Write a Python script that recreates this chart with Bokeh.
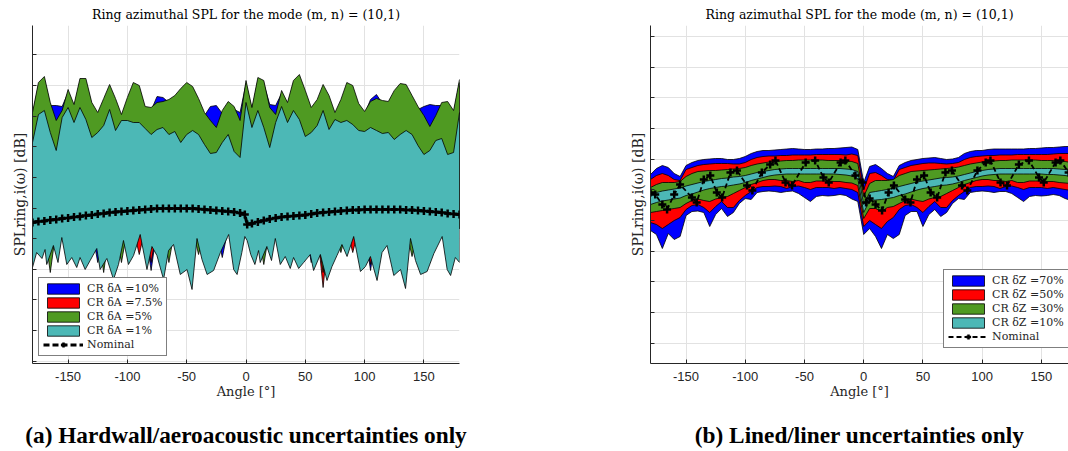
from bokeh.plotting import figure
from bokeh.models import Range1d, FixedTicker, Title, LinearAxis
from bokeh.layouts import row
from bokeh.embed import file_html
from bokeh.resources import INLINE

# ---------------- data: left panel (hardwall) ----------------
ang_top_a = list(range(-180, 185, 5))          # 73 angles for the upper edges
green_hi_a = [190,220,226,200,182,192,213,198,224,224,200,190,204,218,204,188,205,220,217,196,195,200,201,203,207,214,220,216,204,190,182,175,192,201,196,182,222,
              195,225,222,195,188,212,200,222,228,212,195,203,218,207,190,203,220,217,199,191,201,204,202,201,212,219,218,207,196,187,176,187,200,201,192,223]
blue_hi_a = [187,217,223,197,197,196,210,195,221,221,197,187,201,215,201,185,202,217,214,193,192,206,205,200,204,211,217,213,201,187,196,197,189,198,193,190,219,
             192,222,219,198,197,209,197,219,225,209,192,200,215,204,187,200,217,214,196,188,203,208,199,198,209,216,215,204,193,196,198,197,197,198,189,220]
red_hi_a = [184,214,220,194,176,186,207,192,218,218,194,184,198,212,198,182,199,214,211,190,189,194,195,197,201,208,214,210,198,184,176,169,186,195,190,176,216,
            189,219,216,189,182,206,194,216,222,206,189,197,212,201,184,197,214,211,193,185,195,198,196,195,206,213,212,201,190,181,170,181,194,195,186,217]
cyan_hi_a = [160,188,192,170,152,185,195,180,195,183,165,170,177,193,172,182,182,180,180,174,168,173,175,168,171,160,168,172,168,158,149,150,160,168,151,145,200,
             175,192,175,155,180,196,180,192,183,166,170,177,192,173,183,180,182,178,172,171,175,172,169,170,163,168,172,168,157,148,152,162,164,148,150,190]
green_lo_a = [74,74,74,30,74,74,74,74,74,74,74,74,30,74,74,40,74,74,74,74,74,74,74,40,74,74,74,74,48,74,74,74,74,74,74,74,74,
              74,74,38,74,74,74,74,74,74,74,74,74,30,74,74,50,74,74,74,74,74,74,74,74,74,74,74,46,74,74,74,74,74,74,74,74]
red_lo_a = [74,74,74,74,74,74,74,74,74,74,74,74,74,74,74,74,74,74,48,74,40,74,74,74,74,74,74,74,74,74,74,74,74,74,74,74,74,
            74,74,74,74,74,74,74,74,74,74,74,74,15,74,74,74,74,50,74,74,38,74,74,74,74,74,74,74,74,74,74,74,74,74,74,74]
blue_lo_a = [74,74,74,74,74,74,74,74,74,74,74,40,74,74,74,74,74,74,74,74,32,74,74,74,74,74,74,74,74,74,74,74,45,74,74,74,74,
             74,74,74,74,74,74,74,74,74,74,40,74,74,74,74,74,74,74,74,74,32,74,74,74,74,74,74,74,74,74,40,74,74,74,74,74]
ang_low_a = [-180,-176.5,-172,-169.4,-168,-162.4,-158.5,-155.3,-151.1,-146.9,-142.7,-139.9,-135.6,-131.4,-125.8,-123,-117.3,-111.7,-107.5,-103.3,
             -99.1,-94.8,-89.2,-83.5,-79.3,-75.1,-69.5,-65.3,-61.1,-55.4,-49.7,-45.5,-41.3,-37.1,-32.8,-27.3,-21.6,-14.6,-10.4,-7.5,-3.5,-1,
             1,4,7.5,10.6,12,17.6,21.5,24.7,28.9,33.1,37.3,40.1,44.4,48.6,54.2,57,62.7,68.3,72.5,76.7,
             80.9,85.2,90.8,96.5,100.7,104.9,110.5,114.7,118.9,124.6,130.3,134.5,138.7,142.9,147.2,152.7,158.4,165.4,169.6,172.5,176.5,180]
cyan_lo_a = [35,50,44,53,38,57,40,65,38,45,35,45,33,42,54,33,44,23,38,62,38,47,68,33,56,47,23,52,58,28,33,13,64,43,28,32,50,68,33,28,50,66,
             62,48,38,52,40,56,42,64,38,46,34,45,34,40,48,32,48,22,36,47,58,46,66,31,36,46,22,50,57,27,33,14,64,42,28,31,49,66,33,27,45,40]
ang_nom_a = list(range(-180, 0, 5)) + [-1, 1] + list(range(5, 185, 5))
nom_a = [80,81,81.5,82.5,83,84,84.5,85.5,86,87,87.5,88.5,89,90,90.5,91,91.5,92,92.5,93,93.5,94,94,94,94,94,94,94,93.5,93,92.5,92,91.5,91,90.5,89.5,
         88,78,
         79,80.5,82,83.5,84.5,85.5,86,86.5,87,87.5,88.5,89.5,90,90.5,91,91.5,92,92.5,92.5,93,93,93,93,93,93,93,92.5,92.5,92,91.5,91,90.5,90,89,88.5,88]

# ---------------- data: right panel (lined) ----------------
ang_b = list(range(-180, 180, 5))              # 72 angles
blue_hi_b = [78,84,87,85,79,76,87,90,92,93,93.5,94,94,93,93,94,96,99,101,102,102,102.5,103,103.5,104,103.5,103,103,103.5,103.5,104,104,104.5,105,105.5,103,
             70,
             86,88,84,79,76,87,90,92,93,94,94.5,95,94,93,93.5,95,99,101,102,102,103,103.5,103.5,103.5,103.5,103.5,103.5,104,104,104.5,105,105,105.5,106,106]
red_hi_b = [73,77,79,77,73,72,83,85,87,88,88.5,89,89,89,88.5,88.5,90,93,95,96,96.5,96.5,97,97,97.5,97.5,97.5,97.5,98,98,98,98,98,97.5,98.5,97,
            63,
            79,80,77,73,72,83,85,87,88,89,89.5,89.5,89,88.5,89,90,93,95,96,96.5,97,97,97.5,97.5,97.5,98,98,98,98,98,98,98.5,99,99,99]
green_hi_b = [65,68,70,70,70,71,76,79,81,81.5,82,82,82.5,83,83.5,84,85,87,88.5,89.5,90.5,91,91.5,92,92,92.5,92.5,92.5,92.5,92.5,92,92,92,91.5,91,89,
              56,
              69,72,72,72,73,77,79,81,81.5,82,82.5,83,83.5,84,84.5,85.5,87,88.5,89.5,90.5,91,91.5,92,92,92.5,92.5,92.5,92.5,92.5,92,92,92,91.5,91,90]
cyan_hi_b = [58,60,61.5,62.5,63.5,64.5,66.5,68,69.5,71,72,73,74,74.5,75.5,76,77,78.5,80,81,82,83,83.5,84,84,84,84,84,84,84,84,84,84,83.5,83,81,
             48,
             60,61,62,63,64,66,67.5,69,70.5,71.5,72.5,73.5,74.5,75,75.5,76.5,78,79.5,81,82,83,83.5,84,84,84,84,84,84,84,84,84,84,83.5,83,82]
cyan_lo_b = [48,50,51.5,52.5,53.5,54.5,57,58.5,60.5,62.5,64,65,66,66.5,67.5,68.5,70,72,73.5,75,76.5,77.5,78,78.5,78.5,78.5,78.5,78.5,78.5,78.5,78.5,78.5,78,77.5,76.5,74,
             40,
             52,52.5,53,54,55,57,58.5,60.5,62.5,64,65,66,67,67.5,68.5,70,72,73.5,75,76.5,77.5,78,78.5,78.5,78.5,78.5,78.5,78.5,78.5,78.5,78,78,77.5,77,76]
green_lo_b = [40,41,42,43,44,45,49,52,53.5,52,51,53.5,55,56,59,62,65,68,70,72,73,73,72,72,71,72,70,70,71.5,71.5,71.5,71,71,70,69.5,67,
              34,
              44,44,41,45,46,49,52,53.5,52,51,53.5,55,56,59,62,65,68,70,72,73,73,72,72,71,72,70,70,71.5,71.5,71.5,71,71,70,69.5,69]
red_lo_b = [30,28,24,28,32,35,43,47,48,45,40,46,51,45,45,52,57,61,65,66,66,66.5,66,64,66,66.5,65,63,65,65,65,64,65,64,63,60,
            26,
            32,28,24,31,35,43,47,48,45,40,46,51,45,45,52,57,61,65,66,66,66.5,66,64,66,66.5,65,63,65,65,65,64,65,64,63,62]
blue_lo_b = [22,18,4,19,13,16,37,41,41.5,40,26,38,44,36,40,49,54,53,60,61,61.5,61,60,61,61.5,59,55,51,56,57,56.5,57,58,57,53.5,51,
             18,
             24,16,4,18,14,18,37,41,41,26,38,43,36,40,49,54,53,60,61,61.5,61,60,61,61,59,55,51,56,57,56.5,57,58,57,54,52]
ang_nom_b = [-180,-176,-170,-166,-160,-155,-145,-141,-135,-129.5,-124,-119.5,-112.5,-107,-98.5,-94,-86,-79,-74.5,-66,
             -60.5,-49,-41,-34,-29.5,-19.5,-15.5,-7,-1,2,5,10,15.5,21,25.5,35,39.5,45,51,56.5,
             62,69,74.5,83,87.5,96,103,107,115.5,121,131,139.5,148,152,162,166,173]
nom_b = [60,58,48,43,58,68,55,50,73,77,60,55,80,82,67,62,80,88,92,70,
         67,90,92,75,70,90,92,77,70,50,54,48,42,60,67,53,50,73,77,60,
         55,80,82,67,62,82,90,92,70,67,88,92,75,70,90,92,80]

# ---------------- axes / labels ----------------
x_ticks = [-150, -100, -50, 0, 50, 100, 150]
x_tick_labels = ["-150", "-100", "-50", "0", "50", "100", "150"]
y_ticks_a = [247.7, 217.1, 186.4, 155.8, 125.2, 94.5, 63.9, 33.3, 2.7, -27.9, -58.6]
y_ticks_b = [216, 185.3, 154.7, 124, 93.3, 62.7, 32, 1.3, -29.3, -60, -90.7]
title_text = "Ring azimuthal SPL for the mode (m, n) = (10,1)"
y_label = "SPLring,i(ω) [dB]"
x_label = "Angle [°]"
labels_a = ["CR δA =10%", "CR δA =7.5%", "CR δA =5%", "CR δA =1%", "Nominal"]
labels_b = ["CR δZ =70%", "CR δZ =50%", "CR δZ =30%", "CR δZ =10%", "Nominal"]
caption_a = "(a) Hardwall/aeroacoustic uncertainties only"
caption_b = "(b) Lined/liner uncertainties only"

BLUE, RED, GREEN, CYAN = "#0000ff", "#ff0000", "#4f9a22", "#4cb8b6"
SERIF = "DejaVu Serif"
DARK = "#262626"


def base_fig(fw, xr, yr, mbl, mbr, yticks, caption):
    p = figure(frame_width=fw, frame_height=338, min_border_left=mbl, min_border_right=mbr,
               min_border_top=23, min_border_bottom=89, x_range=Range1d(*xr), y_range=Range1d(*yr),
               output_backend="svg", toolbar_location=None, title=None)
    p.background_fill_color = "white"
    p.border_fill_color = "white"
    p.outline_line_color = None
    p.add_layout(Title(text=title_text, align="center", text_font=SERIF, text_font_size="12.5px",
                       text_font_style="normal", text_color="black", standoff=8), "above")
    p.xaxis.ticker = FixedTicker(ticks=x_ticks)
    p.xaxis.major_label_overrides = {t: l for t, l in zip(x_ticks, x_tick_labels)}
    p.xaxis.major_label_text_font = "Liberation Sans"
    p.xaxis.major_label_text_font_size = "13px"
    p.xaxis.major_label_text_color = DARK
    p.xaxis.major_label_standoff = 8
    p.xaxis.axis_label = x_label
    p.xaxis.axis_label_standoff = 0
    p.yaxis.ticker = FixedTicker(ticks=yticks)
    p.yaxis.major_label_text_font_size = "1px"
    p.yaxis.major_label_text_alpha = 0
    p.yaxis.major_label_standoff = 0
    p.yaxis.axis_label = y_label
    p.yaxis.axis_label_standoff = 5
    for ax in (p.xaxis, p.yaxis):
        ax.major_tick_in = 4
        ax.major_tick_out = 0
        ax.minor_tick_line_color = None
        ax.axis_line_color = DARK
        ax.major_tick_line_color = DARK
        ax.axis_label_text_font = SERIF
        ax.axis_label_text_font_style = "normal"
        ax.axis_label_text_color = DARK
    p.xaxis.axis_label_text_font_size = "13px"
    p.yaxis.axis_label_text_font_size = "14px"
    p.grid.grid_line_color = "#e2e2e2"
    p.grid.grid_line_width = 1
    # sub-figure caption, placed under the x-axis label
    cap = LinearAxis(ticker=FixedTicker(ticks=[]), axis_label=caption, axis_line_color=None,
                     major_tick_line_color=None, minor_tick_line_color=None,
                     major_label_text_font_size="1px", major_label_text_alpha=0, major_label_standoff=0,
                     axis_label_standoff=20, axis_label_text_font="Liberation Serif",
                     axis_label_text_font_style="bold", axis_label_text_font_size="23.3px",
                     axis_label_text_color="black")
    p.add_layout(cap, "below")
    return p


def band(p, x_hi, y_hi, x_lo, y_lo, color, label):
    xs = list(x_hi) + list(x_lo)[::-1]
    ys = list(y_hi) + list(y_lo)[::-1]
    p.patch(xs, ys, fill_color=color, fill_alpha=1.0, line_color="black", line_width=0.8,
            legend_label=label)


def style_legend(p, loc):
    lg = p.legend[0]
    lg.location = loc
    lg.label_text_font = SERIF
    lg.label_text_font_size = "11px"
    lg.label_text_color = DARK
    lg.glyph_width = 40
    lg.glyph_height = 13
    lg.label_height = 13
    lg.label_standoff = 4
    lg.spacing = 1
    lg.padding = 4
    lg.margin = 0
    lg.border_line_color = "black"
    lg.border_line_width = 1
    lg.background_fill_color = "white"
    lg.background_fill_alpha = 1.0


# ---------------- left figure ----------------
pa = base_fig(427, (-180, 180), (-61, 277), 32, 19, y_ticks_a, caption_a)
band(pa, ang_top_a, blue_hi_a, ang_top_a, blue_lo_a, BLUE, labels_a[0])
band(pa, ang_top_a, red_hi_a, ang_top_a, red_lo_a, RED, labels_a[1])
band(pa, ang_top_a, green_hi_a, ang_top_a, green_lo_a, GREEN, labels_a[2])
band(pa, ang_top_a, cyan_hi_a, ang_low_a, cyan_lo_a, CYAN, labels_a[3])
pa.line(ang_nom_a, nom_a, line_color="black", line_width=3, line_dash="6 3", legend_label=labels_a[4])
pa.scatter(ang_nom_a, nom_a, marker="cross", size=8, line_color="black", line_width=2.5,
           legend_label=labels_a[4])
style_legend(pa, (6, 7))

# ---------------- right figure ----------------
pb = base_fig(418, (-180, 172.9), (-111, 227), 172, 0, y_ticks_b, caption_b)
band(pb, ang_b, blue_hi_b, ang_b, blue_lo_b, BLUE, labels_b[0])
band(pb, ang_b, red_hi_b, ang_b, red_lo_b, RED, labels_b[1])
band(pb, ang_b, green_hi_b, ang_b, green_lo_b, GREEN, labels_b[2])
band(pb, ang_b, cyan_hi_b, ang_b, cyan_lo_b, CYAN, labels_b[3])
pb.line(ang_nom_b, nom_b, line_color="black", line_width=1.8, line_dash="5 3", legend_label=labels_b[4])
pb.scatter(ang_nom_b, nom_b, marker="cross", size=8, line_color="black", line_width=2.5,
           legend_label=labels_b[4])
style_legend(pb, (293, 15))

layout = row(pa, pb)
open("out.html", "w").write(file_html(layout, INLINE))
